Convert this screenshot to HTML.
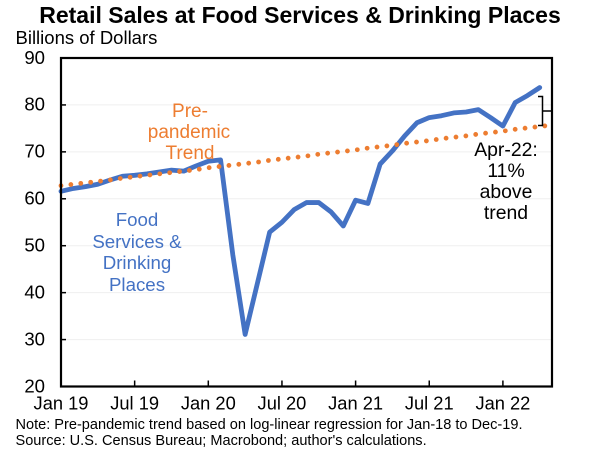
<!DOCTYPE html>
<html lang="en">
<head>
<meta charset="utf-8">
<title>Retail Sales at Food Services &amp; Drinking Places</title>
<style>
html,body{margin:0;padding:0;background:#fff;}
svg{display:block;font-family:"Liberation Sans",Arial,sans-serif;}
</style>
</head>
<body>
<svg id="chart" xmlns="http://www.w3.org/2000/svg" width="600" height="451" viewBox="0 0 600 451">
  <rect x="0" y="0" width="600" height="451" fill="#fff"/>
  <text x="300" y="23" text-anchor="middle" font-size="23" font-weight="bold" fill="#000">Retail Sales at Food Services &amp; Drinking Places</text>
  <text x="15.5" y="44" font-size="18.5" fill="#000">Billions of Dollars</text>
  <g id="grid"></g>
  <g id="series"></g>
  <g id="axes"></g>
  <g font-size="19" fill="#ED7D31" text-anchor="middle">
    <text x="190" y="117">Pre-</text>
    <text x="189" y="138">pandemic</text>
    <text x="190" y="159">Trend</text>
  </g>
  <g font-size="18.7" fill="#4472C4" text-anchor="middle">
    <text x="137" y="226">Food</text>
    <text x="137" y="248">Services &amp;</text>
    <text x="137" y="269">Drinking</text>
    <text x="137" y="291">Places</text>
  </g>
  <path d="M538 96.5H542.5V125.5H538M542.5 111H552" fill="none" stroke="#000" stroke-width="1.5"/>
  <g font-size="19.4" fill="#000" text-anchor="middle">
    <text x="506" y="156">Apr-22:</text>
    <text x="506" y="177">11%</text>
    <text x="506" y="198">above</text>
    <text x="506" y="219">trend</text>
  </g>
  <g font-size="14.55" fill="#000">
    <text x="15.5" y="429">Note:  Pre-pandemic trend based on log-linear regression for Jan-18 to Dec-19.</text>
    <text x="15.5" y="445">Source: U.S. Census Bureau; Macrobond; author's calculations.</text>
  </g>
</svg>
<script>
const yTicks = [20, 30, 40, 50, 60, 70, 80, 90];
const xTickMonths = [0, 6, 12, 18, 24, 30, 36];
const xTickLabels = ["Jan 19", "Jul 19", "Jan 20", "Jul 20", "Jan 21", "Jul 21", "Jan 22"];
const foodServices = [61.6, 62.2, 62.6, 63.1, 64.0, 64.8, 65.0, 65.3, 65.7, 66.1, 65.9, 67.0, 68.0, 68.3, 48.0, 31.1, 42.0, 52.9, 55.0, 57.7, 59.2, 59.2, 57.2, 54.2, 59.7, 59.0, 67.4, 70.2, 73.4, 76.2, 77.3, 77.7, 78.3, 78.5, 79.0, 77.3, 75.5, 80.5, 82.0, 83.7];
const preTrend = [62.8, 63.1, 63.4, 63.7, 64.0, 64.4, 64.7, 65.0, 65.3, 65.6, 65.9, 66.2, 66.6, 66.9, 67.2, 67.5, 67.8, 68.2, 68.5, 68.8, 69.1, 69.5, 69.8, 70.1, 70.4, 70.8, 71.1, 71.4, 71.8, 72.1, 72.4, 72.8, 73.1, 73.4, 73.8, 74.1, 74.4, 74.8, 75.1, 75.4, 75.7];

const svgNS = "http://www.w3.org/2000/svg";
const plotLeft = 61, plotRight = 552, plotTop = 58, plotBottom = 386.5;
const monthSpan = 40, yMin = 20, yMax = 90;
function xScale(m) { return plotLeft + (plotRight - plotLeft) * m / monthSpan; }
function yScale(v) { return plotBottom - (plotBottom - plotTop) * (v - yMin) / (yMax - yMin); }
function make(tag, attrs, parent) {
  const el = document.createElementNS(svgNS, tag);
  for (const k in attrs) el.setAttribute(k, attrs[k]);
  parent.appendChild(el);
  return el;
}
function linePath(values) {
  return values.map(function (v, i) {
    return (i ? "L" : "M") + xScale(i).toFixed(2) + " " + yScale(v).toFixed(2);
  }).join("");
}
const grid = document.getElementById("grid");
const axes = document.getElementById("axes");
const series = document.getElementById("series");

yTicks.forEach(function (t) {
  if (t !== yMin && t !== yMax) {
    const g = make("line", { x1: plotLeft, x2: plotRight, y1: yScale(t), y2: yScale(t), stroke: "#EFEFEF", "stroke-width": 1 }, grid);
    
    
    const tk = make("line", { x1: plotLeft, x2: plotLeft + 5, y1: yScale(t), y2: yScale(t), stroke: "#000", "stroke-width": 1.5 }, axes);
    
    
  }
  const lab = make("text", { x: 45, y: yScale(t) + 5.8, "text-anchor": "end", "font-size": 18.6, fill: "#000" }, axes);
  lab.textContent = t;
  
  
});

xTickMonths.forEach(function (m, i) {
  if (m !== 0) {
    const tk = make("line", { x1: xScale(m), x2: xScale(m), y1: plotBottom, y2: plotBottom - 6, stroke: "#000", "stroke-width": 1.5 }, axes);
    
    
  }
  const lab = make("text", { x: xScale(m), y: 409.5, "text-anchor": "middle", "font-size": 18.3, fill: "#000" }, axes);
  lab.textContent = xTickLabels[i];
  
  
});

const frame = make("rect", { x: plotLeft, y: plotTop, width: plotRight - plotLeft, height: plotBottom - plotTop, fill: "none", stroke: "#000", "stroke-width": 2.2 }, axes);



const foodLine = make("path", { d: linePath(foodServices), fill: "none", stroke: "#4472C4", "stroke-width": 4.8, "stroke-linecap": "round", "stroke-linejoin": "round" }, series);



const trendLine = make("path", { d: linePath(preTrend), fill: "none", stroke: "#ED7D31", "stroke-width": 4.8, "stroke-linecap": "round", "stroke-dasharray": "0 9.95" }, series);


</script>
</body>
</html>
